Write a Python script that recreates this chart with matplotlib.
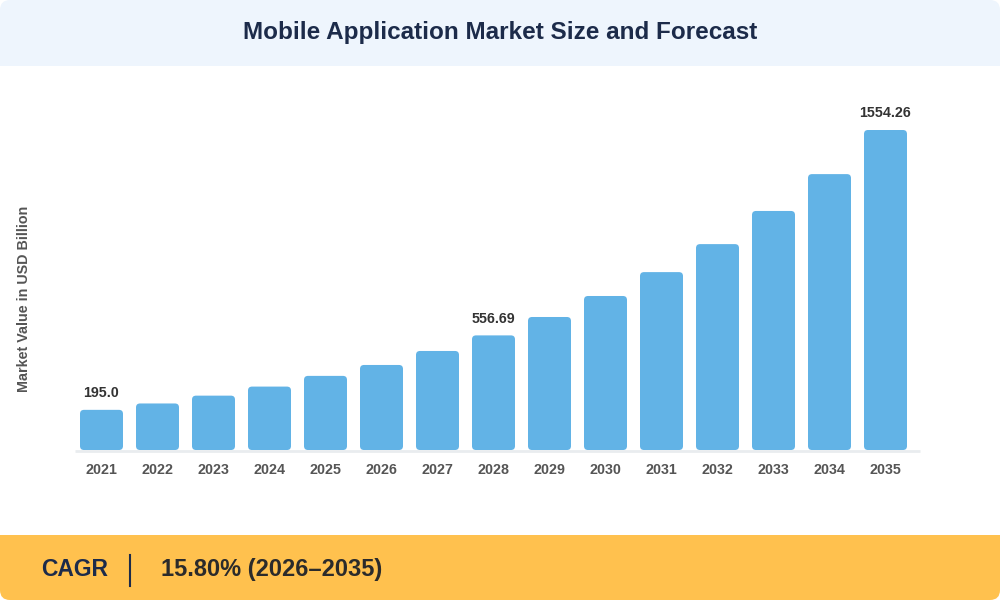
import matplotlib.pyplot as plt
from matplotlib.patches import FancyBboxPatch, Rectangle

years = ['2021', '2022', '2023', '2024', '2025', '2026', '2027', '2028',
         '2029', '2030', '2031', '2032', '2033', '2034', '2035']
values = [195.0, 226, 264, 308, 360, 413, 481, 556.69,
          646, 748, 864, 1000, 1161, 1340, 1554.26]
labelled = {0: '195.0', 7: '556.69', 14: '1554.26'}

title = 'Mobile Application Market Size and Forecast'
ylabel = 'Market Value in USD Billion'
cagr_label = 'CAGR'
cagr_value = '15.80% (2026\u20132035)'

bar_color = '#62B3E6'
navy = '#1C2B4A'

plt.rcParams['font.family'] = ['Liberation Sans', 'DejaVu Sans']

fig = plt.figure(figsize=(10, 6), dpi=100)
fig.patch.set_facecolor('white')

# background layer in pixel coordinates
bg = fig.add_axes([0, 0, 1, 1], zorder=0)
bg.set_xlim(0, 1000)
bg.set_ylim(600, 0)
bg.axis('off')

# header band
bg.add_patch(FancyBboxPatch((0, 0), 1000, 66, boxstyle='round,pad=0,rounding_size=10',
                            fc='#EEF5FD', ec='none'))
bg.add_patch(Rectangle((0, 30), 1000, 36, fc='#EEF5FD', ec='none'))
bg.text(500, 33, title, ha='center', va='center', fontsize=17.5, fontweight='bold', color=navy)

# footer band
bg.add_patch(FancyBboxPatch((0, 535), 1000, 65, boxstyle='round,pad=0,rounding_size=10',
                            fc='#FFC14E', ec='none'))
bg.add_patch(Rectangle((0, 535), 1000, 30, fc='#FFC14E', ec='none'))
bg.text(41, 576, cagr_label, ha='left', va='baseline', fontsize=16.5, fontweight='bold', color=navy)
bg.plot([130, 130], [555, 586], color=navy, lw=1.5)
bg.text(161, 576, cagr_value, ha='left', va='baseline', fontsize=17, fontweight='bold', color='#2B2B2B')

# y label
bg.text(24, 299, ylabel, ha='center', va='center', rotation=90, fontsize=10.3,
        fontweight='bold', color='#555555')

# baseline
bg.plot([75, 920], [451, 451], color='#E9ECEF', lw=2, solid_capstyle='butt')

# chart axes
ax = fig.add_axes([0.0735, 0.25, 0.84, 340 / 600], zorder=1)
ax.patch.set_alpha(0)
ymax = 1554.26 * 340 / 320
ax.set_xlim(-0.5, 14.5)
ax.set_ylim(0, ymax)

x = list(range(len(years)))
width = 43 / 56
bars = ax.bar(x, values, width=width, color=bar_color)

# replace plain bars with rounded ones
px_x = 56.0
px_y = 340.0 / ymax
for b in bars:
    b.set_visible(False)
    r = 4 / px_x
    p = FancyBboxPatch((b.get_x(), 0), b.get_width(), b.get_height(),
                       boxstyle=f'round,pad=0,rounding_size={r}',
                       mutation_aspect=px_x / px_y, fc=bar_color, ec='none')
    ax.add_patch(p)

for i, txt in labelled.items():
    ax.annotate(txt, (x[i], values[i]), xytext=(0, 12), textcoords='offset points',
                ha='center', va='center', fontsize=10.3, fontweight='bold', color='#333333')

ax.set_xticks(x)
ax.set_xticklabels(years, fontsize=10.3, fontweight='bold', color='#555555')
ax.tick_params(axis='x', length=0, pad=9.5)
ax.set_yticks([])
for s in ax.spines.values():
    s.set_visible(False)

fig.savefig('out.png', dpi=100, facecolor='white')
